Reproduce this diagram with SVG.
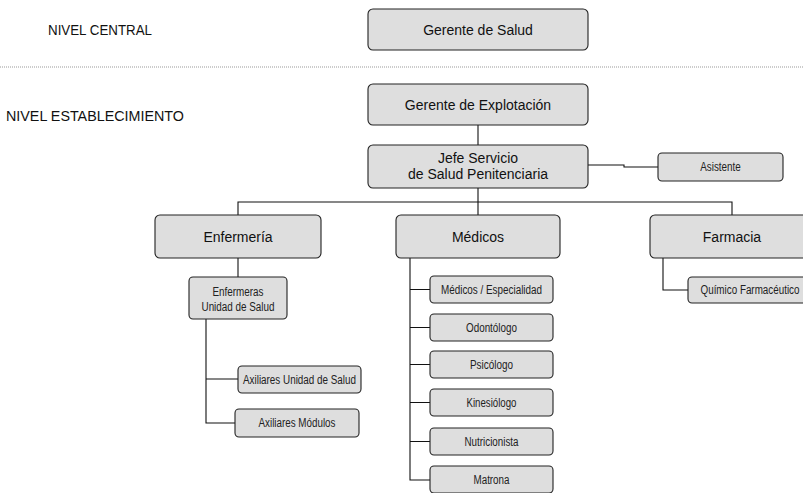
<svg xmlns="http://www.w3.org/2000/svg" width="803" height="493" viewBox="0 0 803 493">
<style>
.bx{fill:#dedede;stroke:#222;stroke-width:1.1}
.t{font-family:"Liberation Sans",Arial,sans-serif;font-size:14px;fill:#111;text-anchor:middle}
.s{font-family:"Liberation Sans",Arial,sans-serif;font-size:12px;fill:#222;text-anchor:middle}
.lv{font-family:"Liberation Sans",Arial,sans-serif;font-size:14px;fill:#111}
.c{fill:none;stroke:#111;stroke-width:1.1}
</style>
<rect width="803" height="493" fill="#fff"/>
<text class="lv" x="48" y="34.5" textLength="104" lengthAdjust="spacingAndGlyphs">NIVEL CENTRAL</text>
<text class="lv" x="6" y="121" textLength="178" lengthAdjust="spacingAndGlyphs">NIVEL ESTABLECIMIENTO</text>
<line x1="0" y1="67" x2="803" y2="67" stroke="#999" stroke-width="1" stroke-dasharray="1,1"/>
<g id="connectors">
<path class="c" d="M478 125V145"/>
<path class="c" d="M588 165H624V167H658"/>
<path class="c" d="M478 188V202M238 215V202H732V215M478 202V215"/>
<path class="c" d="M238 258V277"/>
<path class="c" d="M206 319V423H235M206 379H238"/>
<path class="c" d="M410 258V480H430M410 289.5H430M410 327.5H430M410 364.5H430M410 402.5H430M410 441.5H430"/>
<path class="c" d="M663 258V290H688"/>
</g>
<g id="gerente-salud"><rect class="bx" x="368" y="9" width="220" height="41" rx="5"/><text class="t" x="478" y="34.5">Gerente de Salud</text></g>
<g id="gerente-explotacion"><rect class="bx" x="368" y="84" width="220" height="41" rx="5"/><text class="t" x="478" y="109.5">Gerente de Explotación</text></g>
<g id="jefe"><rect class="bx" x="368" y="145" width="220" height="43" rx="5"/><text class="t" x="478" y="163">Jefe Servicio</text><text class="t" x="478" y="179">de Salud Penitenciaria</text></g>
<g id="asistente"><rect class="bx" x="658" y="153" width="125" height="28" rx="4"/><text class="s" x="720.5" y="171" textLength="40.5" lengthAdjust="spacingAndGlyphs">Asistente</text></g>
<g id="enfermeria"><rect class="bx" x="155" y="215" width="166" height="43" rx="5"/><text class="t" x="238" y="241.5">Enfermería</text></g>
<g id="medicos"><rect class="bx" x="396" y="215" width="164" height="43" rx="5"/><text class="t" x="478" y="241.5">Médicos</text></g>
<g id="farmacia"><rect class="bx" x="650" y="215" width="166" height="43" rx="5"/><text class="t" x="732" y="241.5">Farmacia</text></g>
<g id="enfermeras"><rect class="bx" x="189" y="277" width="98" height="42" rx="4"/><text class="s" x="238" y="296" textLength="51" lengthAdjust="spacingAndGlyphs">Enfermeras</text><text class="s" x="238" y="311" textLength="73" lengthAdjust="spacingAndGlyphs">Unidad de Salud</text></g>
<g id="axiliares-unidad"><rect class="bx" x="238" y="366" width="123" height="27" rx="4"/><text class="s" x="299.5" y="383.5" textLength="113" lengthAdjust="spacingAndGlyphs">Axiliares Unidad de Salud</text></g>
<g id="axiliares-modulos"><rect class="bx" x="235" y="409" width="124" height="28" rx="4"/><text class="s" x="297" y="427" textLength="77" lengthAdjust="spacingAndGlyphs">Axiliares Módulos</text></g>
<g id="medicos-especialidad"><rect class="bx" x="430" y="276" width="123" height="27" rx="4"/><text class="s" x="491.5" y="293.5" textLength="101" lengthAdjust="spacingAndGlyphs">Médicos / Especialidad</text></g>
<g id="odontologo"><rect class="bx" x="430" y="314" width="123" height="27" rx="4"/><text class="s" x="491.5" y="331.5" textLength="51" lengthAdjust="spacingAndGlyphs">Odontólogo</text></g>
<g id="psicologo"><rect class="bx" x="430" y="351" width="123" height="27" rx="4"/><text class="s" x="491.5" y="368.5" textLength="43" lengthAdjust="spacingAndGlyphs">Psicólogo</text></g>
<g id="kinesiologo"><rect class="bx" x="430" y="389" width="123" height="27" rx="4"/><text class="s" x="491.5" y="406.5" textLength="50" lengthAdjust="spacingAndGlyphs">Kinesiólogo</text></g>
<g id="nutricionista"><rect class="bx" x="430" y="428" width="123" height="27" rx="4"/><text class="s" x="491.5" y="445.5" textLength="54" lengthAdjust="spacingAndGlyphs">Nutricionista</text></g>
<g id="matrona"><rect class="bx" x="430" y="466" width="123" height="27" rx="4"/><text class="s" x="491.5" y="484" textLength="36" lengthAdjust="spacingAndGlyphs">Matrona</text></g>
<g id="quimico"><rect class="bx" x="688" y="277" width="125" height="26" rx="4"/><text class="s" x="750" y="294" textLength="99" lengthAdjust="spacingAndGlyphs">Químico Farmacéutico</text></g>
</svg>
